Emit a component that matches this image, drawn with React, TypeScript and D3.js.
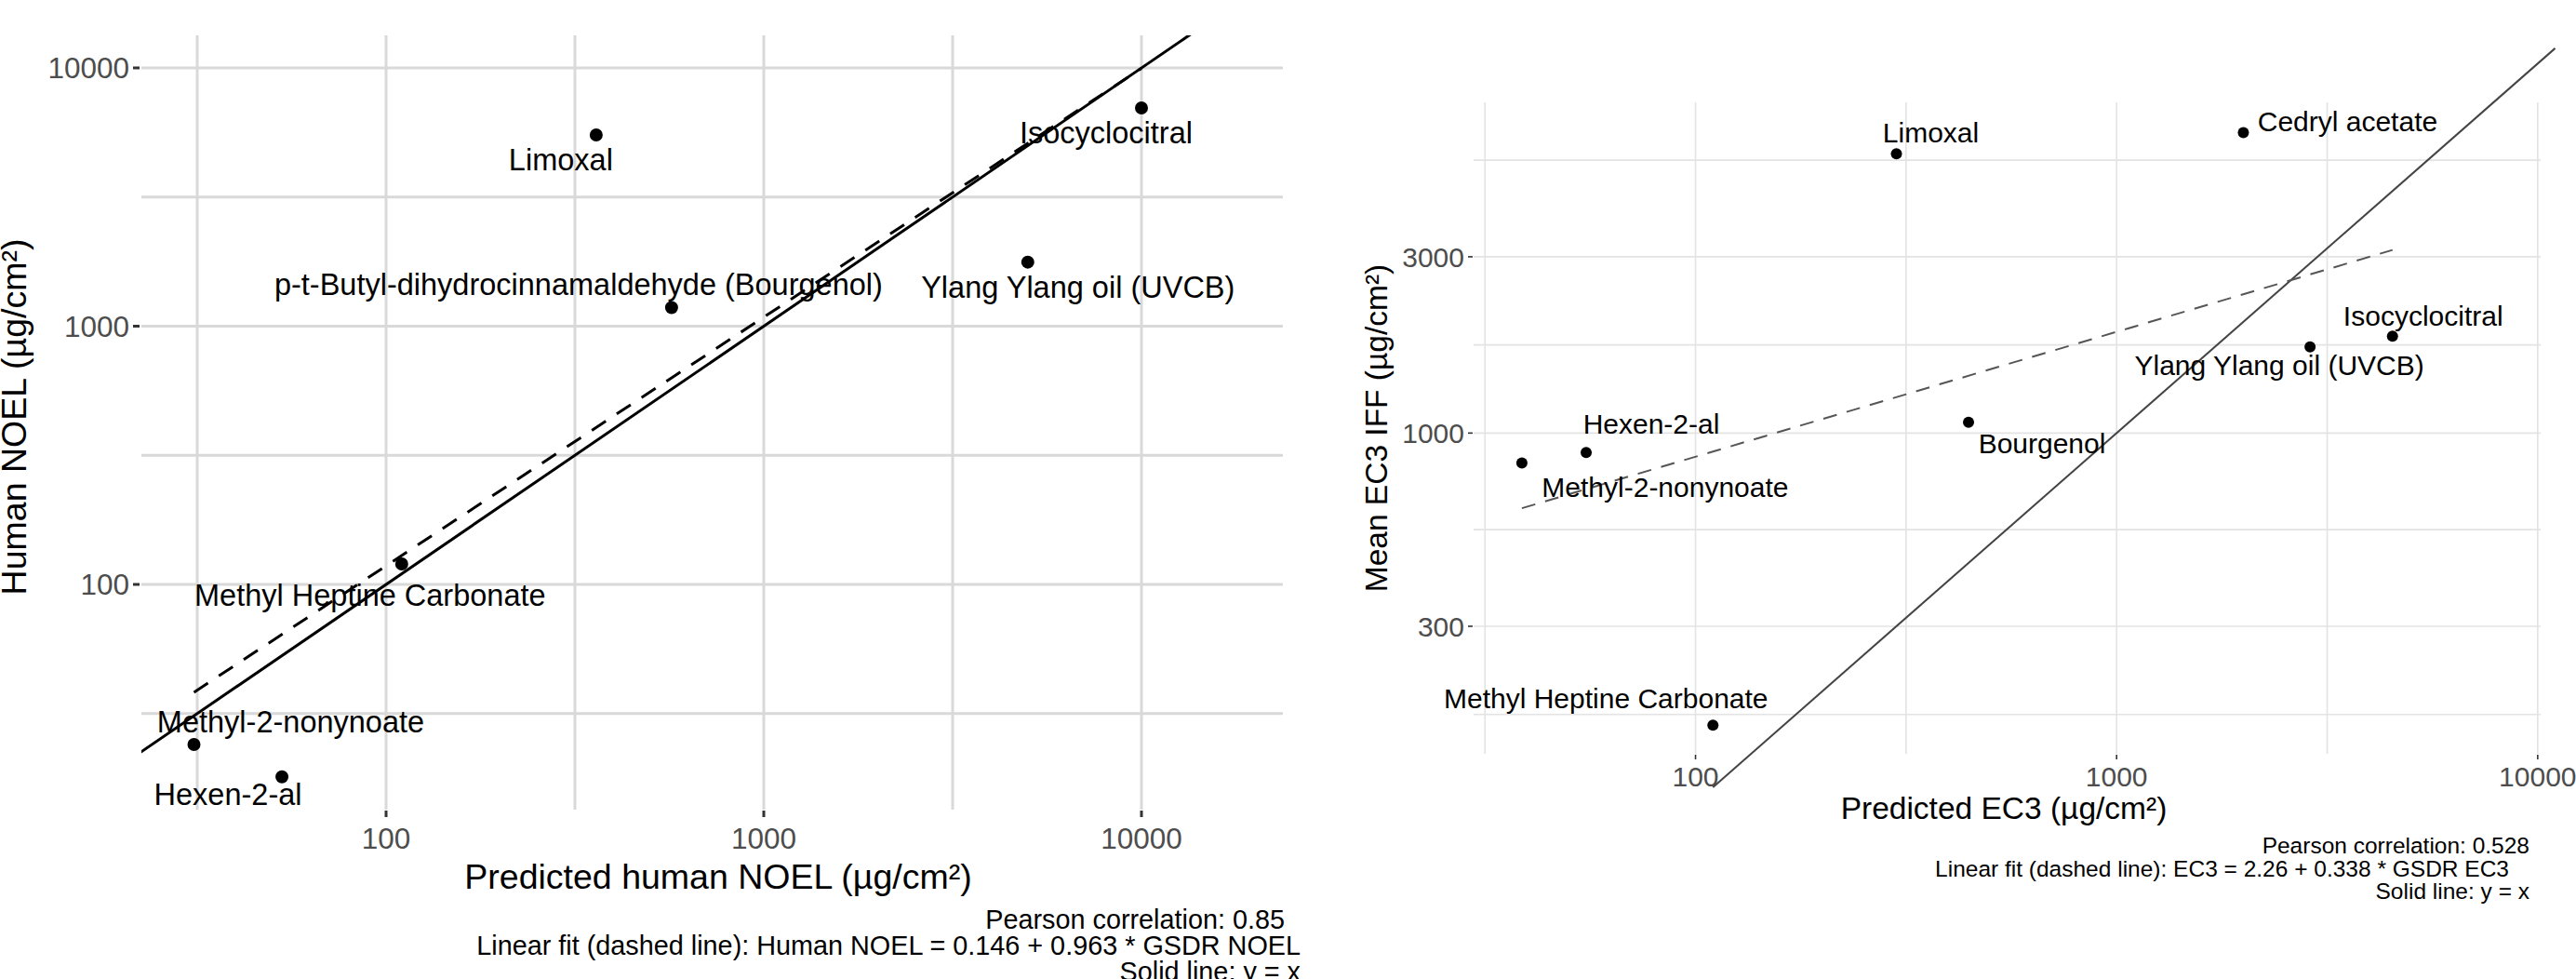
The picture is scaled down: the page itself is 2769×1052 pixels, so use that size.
import React, { useEffect } from "react";
import * as d3 from "d3";

const FONT = "'Liberation Sans', Arial, Helvetica, sans-serif";

// left chart: human NOEL vs predicted NOEL
const noelNames = [
  "Limoxal",
  "Isocyclocitral",
  "Ylang Ylang oil (UVCB)",
  "p-t-Butyl-dihydrocinnamaldehyde (Bourgenol)",
  "Methyl Heptine Carbonate",
  "Methyl-2-nonynoate",
  "Hexen-2-al",
];
const noelPredicted = [360, 10000, 5000, 570, 110, 31, 53];
const noelHuman = [5500, 7000, 1770, 1180, 120, 24, 18];
const noelTicks = [100, 1000, 10000];
const noelDecades = [10, 100, 1000, 10000, 100000];
const noelFit = [0.146, 0.963];
const noelNotes = [
  "Pearson correlation: 0.85",
  "Linear fit (dashed line): Human NOEL = 0.146 + 0.963 * GSDR NOEL",
  "Solid line: y = x",
];

// right chart: mean EC3 IFF vs predicted EC3
const ec3Names = [
  "Limoxal",
  "Cedryl acetate",
  "Isocyclocitral",
  "Ylang Ylang oil (UVCB)",
  "Bourgenol",
  "Hexen-2-al",
  "Methyl-2-nonynoate",
  "Methyl Heptine Carbonate",
];
const ec3Predicted = [300, 2000, 4520, 2880, 445, 55, 38.7, 110];
const ec3Mean = [5700, 6500, 1830, 1710, 1070, 886, 830, 162];
const ec3XTicks = [100, 1000, 10000];
const ec3YTicks = [300, 1000, 3000];
const ec3XBreaks = [10, 100, 1000, 10000];
const ec3YBreaks = [100, 300, 1000, 3000, 10000];
const ec3Fit = [2.26, 0.338];
const ec3Identity = [110, 11000];
const ec3Notes = [
  "Pearson correlation: 0.528",
  "Linear fit (dashed line): EC3 = 2.26 + 0.338 * GSDR EC3",
  "Solid line: y = x",
];

// label placement (dx, dy from the point, px)
const noelLabelOffsets = [
  [-38, 38], [-38, 38], [54, 38], [-100, -14], [-34, 45], [104, -13], [-58, 30],
];
const ec3LabelOffsets = [
  [37, -12], [112, -2], [33, -11], [-33, 30], [79, 33], [70, -20], [154, 37], [-115, -18],
];

const minorsOf = (breaks, dom) =>
  d3.pairs(breaks)
    .map(([a, b]) => Math.sqrt(a * b))
    .filter(v => v > dom[0] && v < dom[1]);

function ScatterPanel(p) {
  const x = d3.scaleLog().domain(p.xDomain).range([p.box.left, p.box.right]);
  const y = d3.scaleLog().domain(p.yDomain).range([p.box.bottom, p.box.top]);

  const inX = v => v >= p.xDomain[0] && v <= p.xDomain[1];
  const inY = v => v >= p.yDomain[0] && v <= p.yDomain[1];
  const xGrid = [...p.xTicks.filter(inX), ...minorsOf(p.xBreaks, p.xDomain)];
  const yGrid = [...p.yTicks.filter(inY), ...minorsOf(p.yBreaks, p.yDomain)];

  const line = d3.line<number[]>().x(d => x(d[0])).y(d => y(d[1]));
  const ident = p.identity.map(v => [v, v]);
  const xExt = d3.extent(p.xs) as number[];
  const fitPts = xExt.map(v => [v, Math.pow(10, p.fit[0] + p.fit[1] * Math.log10(v))]);

  const L = p.look;
  const clipId = p.id + "-clip";

  return (
    <g>
      <defs>
        <clipPath id={clipId}>
          <rect x={p.box.left} y={p.box.top}
            width={p.box.right - p.box.left} height={p.box.bottom - p.box.top} />
        </clipPath>
      </defs>
      {/* grid */}
      {yGrid.map((v, i) => (
        <line key={"gy" + i} x1={p.box.left} x2={p.box.right} y1={y(v)} y2={y(v)}
          stroke={L.grid} strokeWidth={L.gridW} />
      ))}
      {xGrid.map((v, i) => (
        <line key={"gx" + i} x1={x(v)} x2={x(v)} y1={p.box.top} y2={p.box.bottom}
          stroke={L.grid} strokeWidth={L.gridW} />
      ))}
      {/* ticks + labels */}
      {p.yTicks.filter(inY).map(v => (
        <g key={"ty" + v}>
          <line x1={p.box.left - L.tickGap - L.tickLen} x2={p.box.left - L.tickGap}
            y1={y(v)} y2={y(v)} stroke="#333" strokeWidth={L.tickW} />
          <text x={p.box.left - L.tickGap - L.tickLen - 4} y={y(v)} dy="0.36em"
            textAnchor="end" fontSize={L.tickSize} fill="#4d4d4d">{v}</text>
        </g>
      ))}
      {p.xTicks.filter(inX).map(v => (
        <g key={"tx" + v}>
          <line x1={x(v)} x2={x(v)} y1={p.box.bottom + 1} y2={p.box.bottom + 1 + L.tickLen}
            stroke="#333" strokeWidth={L.tickW} />
          <text x={x(v)} y={p.xLabelY} textAnchor="middle" fontSize={L.tickSize}
            fill="#4d4d4d">{v}</text>
        </g>
      ))}
      {/* reference lines */}
      <g clipPath={p.clipIdentity ? `url(#${clipId})` : undefined}>
        <path d={line(ident)} fill="none" stroke={L.solid} strokeWidth={L.lineW} />
      </g>
      <path d={line(fitPts)} fill="none" stroke={L.dashed} strokeWidth={L.lineW}
        strokeDasharray={L.dash} />
      {/* points */}
      {p.xs.map((v, i) => (
        <circle key={"pt" + i} cx={x(v)} cy={y(p.ys[i])} r={L.r} fill="black" />
      ))}
      {p.names.map((n, i) => (
        <text key={"lb" + i} x={x(p.xs[i]) + p.offsets[i][0]} y={y(p.ys[i]) + p.offsets[i][1]}
          textAnchor="middle" fontSize={L.labelSize} fill="black">{n}</text>
      ))}
      {/* axis titles */}
      <text x={p.xTitle.x} y={p.xTitle.y} textAnchor="middle" fontSize={L.titleSize}
        fill="black">{p.xTitle.text}</text>
      <text transform={`translate(${p.yTitle.x},${p.yTitle.y}) rotate(-90)`}
        textAnchor="middle" fontSize={L.titleSize} fill="black">{p.yTitle.text}</text>
      {/* caption */}
      {p.notes.map((t, i) => (
        <text key={"n" + i} x={p.noteRight[i]} y={p.noteY[i]} textAnchor="end"
          fontSize={L.noteSize} fill="black">{t}</text>
      ))}
    </g>
  );
}

export default function App() {
  useEffect(() => {
    document.body.style.margin = "0";
  }, []);

  return (
    <svg width={2769} height={1052} style={{ display: "block" }} fontFamily={FONT}>
      <rect width={2769} height={1052} fill="white" />
      <ScatterPanel
        id="noel"
        names={noelNames}
        xs={noelPredicted}
        ys={noelHuman}
        fit={noelFit}
        identity={[10 ** 1.1, 10 ** 4.4]}
        clipIdentity={true}
        xTicks={noelTicks}
        yTicks={noelTicks}
        xBreaks={noelDecades}
        yBreaks={noelDecades}
        box={{ left: 152, right: 1379, top: 38, bottom: 870 }}
        xDomain={[10 ** 1.3522, 10 ** 4.3744]}
        yDomain={[10 ** 1.128, 10 ** 4.126]}
        xLabelY={912}
        offsets={noelLabelOffsets}
        look={{
          grid: "#d9d9d9", gridW: 3, tickLen: 7, tickGap: 2, tickW: 3, tickSize: 31.5,
          solid: "black", dashed: "black", lineW: 3, dash: "18,14", r: 7,
          labelSize: 32.5, titleSize: 37.5, noteSize: 28.8,
        }}
        xTitle={{ x: 772, y: 955, text: "Predicted human NOEL (µg/cm²)" }}
        yTitle={{ x: 28, y: 448, text: "Human NOEL (µg/cm²)" }}
        notes={noelNotes}
        noteRight={[1381, 1398, 1398]}
        noteY={[998, 1026, 1054]}
      />
      <ScatterPanel
        id="ec3"
        names={ec3Names}
        xs={ec3Predicted}
        ys={ec3Mean}
        fit={ec3Fit}
        identity={ec3Identity}
        clipIdentity={false}
        xTicks={ec3XTicks}
        yTicks={ec3YTicks}
        xBreaks={ec3XBreaks}
        yBreaks={ec3YBreaks}
        box={{ left: 1584, right: 2731, top: 110, bottom: 810 }}
        xDomain={[10 ** 1.473, 10 ** 4.007]}
        yDomain={[10 ** 2.132, 10 ** 3.895]}
        xLabelY={845}
        offsets={ec3LabelOffsets}
        look={{
          grid: "#e3e3e3", gridW: 1.6, tickLen: 5, tickGap: 1, tickW: 1.6, tickSize: 30,
          solid: "#444", dashed: "#555", lineW: 2, dash: "15,11", r: 6,
          labelSize: 30, titleSize: 33.5, noteSize: 24.5,
        }}
        xTitle={{ x: 2154, y: 880, text: "Predicted EC3 (µg/cm²)" }}
        yTitle={{ x: 1491, y: 460, text: "Mean EC3 IFF (µg/cm²)" }}
        notes={ec3Notes}
        noteRight={[2719, 2697, 2719]}
        noteY={[917, 942, 966]}
      />
    </svg>
  );
}
